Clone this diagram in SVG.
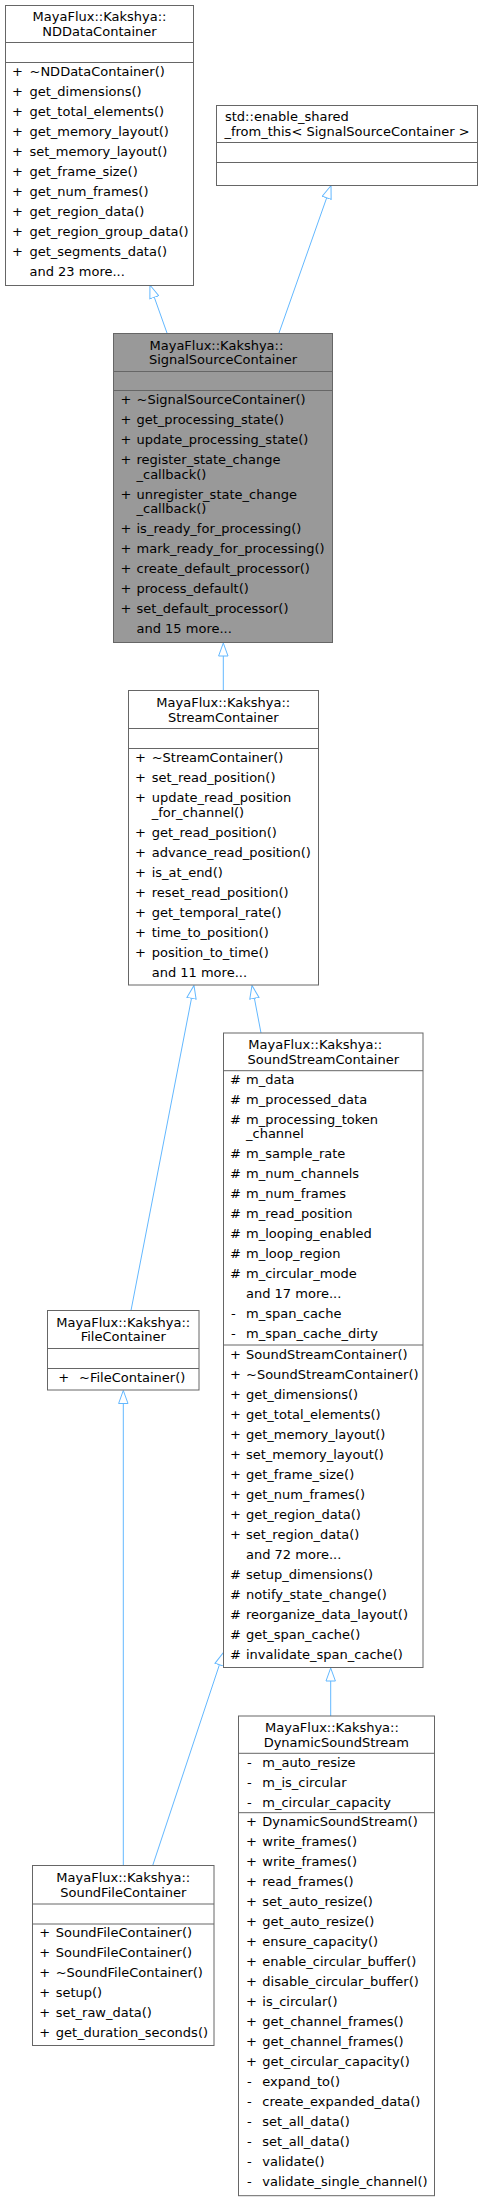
<svg xmlns="http://www.w3.org/2000/svg" width="483" height="2201" viewBox="0 0 483 2201">
<style>
text{font-family:"DejaVu Sans","Liberation Sans",sans-serif;font-size:13px;fill:#000}
.m{text-anchor:middle}
.box{fill:#fff;stroke:#666;stroke-width:1}
.cur{fill:#999;stroke:#666;stroke-width:1}
.div{stroke:#666;stroke-width:1}
.edge{fill:none;stroke:#63b8ff;stroke-width:1;marker-end:url(#ah)}
</style>
<defs>
<marker id="ah" markerUnits="userSpaceOnUse" markerWidth="14" markerHeight="11" viewBox="0 0 14 11" refX="0.5" refY="5.5" orient="auto">
<path d="M0.5,0.8 L13.5,5.5 L0.5,10.2 Z" fill="#fff" stroke="#63b8ff" stroke-width="1"/>
</marker>
</defs>

<g id="connectors">
<line class="edge" x1="167" y1="333" x2="154.3" y2="297.3"/>
<line class="edge" x1="279" y1="333" x2="326.7" y2="197.8"/>
<line class="edge" x1="223.3" y1="690" x2="223.3" y2="656"/>
<line class="edge" x1="131" y1="1310.5" x2="191.5" y2="998.3"/>
<line class="edge" x1="261" y1="1033" x2="254.4" y2="998.3"/>
<line class="edge" x1="123.3" y1="1865.5" x2="123.3" y2="1403.5"/>
<line class="edge" x1="152.7" y1="1865.5" x2="219.4" y2="1664.8"/>
<line class="edge" x1="330.7" y1="1716" x2="330.7" y2="1681"/>
</g>

<g id="NDDataContainer">
<rect class="box" x="5.5" y="5.5" width="188" height="280"/>
<line class="div" x1="5.5" y1="42.5" x2="193.5" y2="42.5"/>
<line class="div" x1="5.5" y1="62.5" x2="193.5" y2="62.5"/>
<text class="m" x="99.5" y="21">MayaFlux::Kakshya::</text>
<text class="m" x="99.5" y="36">NDDataContainer</text>
<text x="12" y="76">+</text><text x="29.5" y="76">~NDDataContainer()</text>
<text x="12" y="96">+</text><text x="29.5" y="96">get_dimensions()</text>
<text x="12" y="116">+</text><text x="29.5" y="116">get_total_elements()</text>
<text x="12" y="136">+</text><text x="29.5" y="136">get_memory_layout()</text>
<text x="12" y="156">+</text><text x="29.5" y="156">set_memory_layout()</text>
<text x="12" y="176">+</text><text x="29.5" y="176">get_frame_size()</text>
<text x="12" y="196">+</text><text x="29.5" y="196">get_num_frames()</text>
<text x="12" y="216">+</text><text x="29.5" y="216">get_region_data()</text>
<text x="12" y="236">+</text><text x="29.5" y="236">get_region_group_data()</text>
<text x="12" y="256">+</text><text x="29.5" y="256">get_segments_data()</text>
<text x="29.5" y="276">and 23 more...</text>
</g>

<g id="enable_shared">
<rect class="box" x="216.5" y="105.5" width="261" height="80"/>
<line class="div" x1="216.5" y1="142.5" x2="477.5" y2="142.5"/>
<line class="div" x1="216.5" y1="162.5" x2="477.5" y2="162.5"/>
<text x="225" y="121">std::enable_shared</text>
<text class="m" x="347" y="136">_from_this&lt; SignalSourceContainer &gt;</text>
</g>

<g id="SignalSourceContainer">
<rect class="cur" x="113.5" y="333.5" width="219" height="309"/>
<line class="div" x1="113.5" y1="371.5" x2="332.5" y2="371.5"/>
<line class="div" x1="113.5" y1="390.5" x2="332.5" y2="390.5"/>
<text x="149.5" y="349.5">MayaFlux::Kakshya::</text>
<text class="m" x="223" y="364">SignalSourceContainer</text>
<text x="120.5" y="404.3">+</text><text x="136.5" y="404.3">~SignalSourceContainer()</text>
<text x="120.5" y="424.3">+</text><text x="136.5" y="424.3">get_processing_state()</text>
<text x="120.5" y="444.3">+</text><text x="136.5" y="444.3">update_processing_state()</text>
<text x="120.5" y="464.3">+</text><text x="136.5" y="464.3">register_state_change</text>
<text x="136.5" y="479">_callback()</text>
<text x="120.5" y="498.6">+</text><text x="136.5" y="498.6">unregister_state_change</text>
<text x="136.5" y="512.6">_callback()</text>
<text x="120.5" y="533.3">+</text><text x="136.5" y="533.3">is_ready_for_processing()</text>
<text x="120.5" y="553.3">+</text><text x="136.5" y="553.3">mark_ready_for_processing()</text>
<text x="120.5" y="573.3">+</text><text x="136.5" y="573.3">create_default_processor()</text>
<text x="120.5" y="593">+</text><text x="136.5" y="593">process_default()</text>
<text x="120.5" y="613">+</text><text x="136.5" y="613">set_default_processor()</text>
<text x="136.5" y="633">and 15 more...</text>
</g>

<g id="StreamContainer">
<rect class="box" x="128.5" y="690.5" width="190" height="294.5"/>
<line class="div" x1="128.5" y1="728.5" x2="318.5" y2="728.5"/>
<line class="div" x1="128.5" y1="748.5" x2="318.5" y2="748.5"/>
<text class="m" x="223.3" y="707">MayaFlux::Kakshya::</text>
<text class="m" x="223.3" y="722">StreamContainer</text>
<text x="135" y="762">+</text><text x="151.7" y="762">~StreamContainer()</text>
<text x="135" y="782">+</text><text x="151.7" y="782">set_read_position()</text>
<text x="135" y="802">+</text><text x="151.7" y="802">update_read_position</text>
<text x="151.7" y="817">_for_channel()</text>
<text x="135" y="837">+</text><text x="151.7" y="837">get_read_position()</text>
<text x="135" y="857">+</text><text x="151.7" y="857">advance_read_position()</text>
<text x="135" y="877">+</text><text x="151.7" y="877">is_at_end()</text>
<text x="135" y="897">+</text><text x="151.7" y="897">reset_read_position()</text>
<text x="135" y="917">+</text><text x="151.7" y="917">get_temporal_rate()</text>
<text x="135" y="937">+</text><text x="151.7" y="937">time_to_position()</text>
<text x="135" y="957">+</text><text x="151.7" y="957">position_to_time()</text>
<text x="151.7" y="977">and 11 more...</text>
</g>

<g id="SoundStreamContainer">
<rect class="box" x="223.5" y="1033" width="199.5" height="634.5"/>
<line class="div" x1="223.5" y1="1070.7" x2="423" y2="1070.7"/>
<line class="div" x1="223.5" y1="1345" x2="423" y2="1345"/>
<text x="248.3" y="1048.6">MayaFlux::Kakshya::</text>
<text class="m" x="323.3" y="1063.6">SoundStreamContainer</text>
<text x="230" y="1083.6">#</text><text x="246" y="1083.6">m_data</text>
<text x="230" y="1103.6">#</text><text x="246" y="1103.6">m_processed_data</text>
<text x="230" y="1123.6">#</text><text x="246" y="1123.6">m_processing_token</text>
<text x="246" y="1138.3">_channel</text>
<text x="230" y="1158.3">#</text><text x="246" y="1158.3">m_sample_rate</text>
<text x="230" y="1178.3">#</text><text x="246" y="1178.3">m_num_channels</text>
<text x="230" y="1198.3">#</text><text x="246" y="1198.3">m_num_frames</text>
<text x="230" y="1218.3">#</text><text x="246" y="1218.3">m_read_position</text>
<text x="230" y="1238.3">#</text><text x="246" y="1238.3">m_looping_enabled</text>
<text x="230" y="1258.3">#</text><text x="246" y="1258.3">m_loop_region</text>
<text x="230" y="1278.3">#</text><text x="246" y="1278.3">m_circular_mode</text>
<text x="246" y="1298.3">and 17 more...</text>
<text x="231" y="1318.3">-</text><text x="246" y="1318.3">m_span_cache</text>
<text x="231" y="1338.3">-</text><text x="246" y="1338.3">m_span_cache_dirty</text>
<text x="230" y="1358.6">+</text><text x="246" y="1358.6">SoundStreamContainer()</text>
<text x="230" y="1378.6">+</text><text x="246" y="1378.6">~SoundStreamContainer()</text>
<text x="230" y="1398.6">+</text><text x="246" y="1398.6">get_dimensions()</text>
<text x="230" y="1418.6">+</text><text x="246" y="1418.6">get_total_elements()</text>
<text x="230" y="1438.6">+</text><text x="246" y="1438.6">get_memory_layout()</text>
<text x="230" y="1458.6">+</text><text x="246" y="1458.6">set_memory_layout()</text>
<text x="230" y="1478.6">+</text><text x="246" y="1478.6">get_frame_size()</text>
<text x="230" y="1498.6">+</text><text x="246" y="1498.6">get_num_frames()</text>
<text x="230" y="1518.6">+</text><text x="246" y="1518.6">get_region_data()</text>
<text x="230" y="1538.6">+</text><text x="246" y="1538.6">set_region_data()</text>
<text x="246" y="1558.6">and 72 more...</text>
<text x="230" y="1578.6">#</text><text x="246" y="1578.6">setup_dimensions()</text>
<text x="230" y="1598.6">#</text><text x="246" y="1598.6">notify_state_change()</text>
<text x="230" y="1618.6">#</text><text x="246" y="1618.6">reorganize_data_layout()</text>
<text x="230" y="1638.6">#</text><text x="246" y="1638.6">get_span_cache()</text>
<text x="230" y="1658.6">#</text><text x="246" y="1658.6">invalidate_span_cache()</text>
</g>

<g id="FileContainer">
<rect class="box" x="47.5" y="1310.5" width="151.5" height="79.5"/>
<line class="div" x1="47.5" y1="1348.5" x2="199" y2="1348.5"/>
<line class="div" x1="47.5" y1="1368.5" x2="199" y2="1368.5"/>
<text class="m" x="123.3" y="1327">MayaFlux::Kakshya::</text>
<text class="m" x="123.3" y="1341">FileContainer</text>
<text x="58.3" y="1381.6">+</text><text x="79" y="1381.6">~FileContainer()</text>
</g>

<g id="SoundFileContainer">
<rect class="box" x="32.5" y="1865.5" width="181.5" height="180"/>
<line class="div" x1="32.5" y1="1904" x2="214" y2="1904"/>
<line class="div" x1="32.5" y1="1924" x2="214" y2="1924"/>
<text class="m" x="123.3" y="1882">MayaFlux::Kakshya::</text>
<text class="m" x="123.3" y="1897">SoundFileContainer</text>
<text x="39.3" y="1937">+</text><text x="55.7" y="1937">SoundFileContainer()</text>
<text x="39.3" y="1957">+</text><text x="55.7" y="1957">SoundFileContainer()</text>
<text x="39.3" y="1977">+</text><text x="55.7" y="1977">~SoundFileContainer()</text>
<text x="39.3" y="1997">+</text><text x="55.7" y="1997">setup()</text>
<text x="39.3" y="2017">+</text><text x="55.7" y="2017">set_raw_data()</text>
<text x="39.3" y="2037">+</text><text x="55.7" y="2037">get_duration_seconds()</text>
</g>

<g id="DynamicSoundStream">
<rect class="box" x="238.5" y="1716" width="196" height="479.7"/>
<line class="div" x1="238.5" y1="1753.3" x2="434.5" y2="1753.3"/>
<line class="div" x1="238.5" y1="1812.7" x2="434.5" y2="1812.7"/>
<text x="265" y="1732">MayaFlux::Kakshya::</text>
<text class="m" x="336.3" y="1746.6">DynamicSoundStream</text>
<text x="247" y="1767">-</text><text x="262.3" y="1767">m_auto_resize</text>
<text x="247" y="1787">-</text><text x="262.3" y="1787">m_is_circular</text>
<text x="247" y="1807">-</text><text x="262.3" y="1807">m_circular_capacity</text>
<text x="246" y="1826">+</text><text x="262.3" y="1826">DynamicSoundStream()</text>
<text x="246" y="1846">+</text><text x="262.3" y="1846">write_frames()</text>
<text x="246" y="1866">+</text><text x="262.3" y="1866">write_frames()</text>
<text x="246" y="1886">+</text><text x="262.3" y="1886">read_frames()</text>
<text x="246" y="1906">+</text><text x="262.3" y="1906">set_auto_resize()</text>
<text x="246" y="1926">+</text><text x="262.3" y="1926">get_auto_resize()</text>
<text x="246" y="1946">+</text><text x="262.3" y="1946">ensure_capacity()</text>
<text x="246" y="1966">+</text><text x="262.3" y="1966">enable_circular_buffer()</text>
<text x="246" y="1986">+</text><text x="262.3" y="1986">disable_circular_buffer()</text>
<text x="246" y="2006">+</text><text x="262.3" y="2006">is_circular()</text>
<text x="246" y="2026">+</text><text x="262.3" y="2026">get_channel_frames()</text>
<text x="246" y="2046">+</text><text x="262.3" y="2046">get_channel_frames()</text>
<text x="246" y="2066">+</text><text x="262.3" y="2066">get_circular_capacity()</text>
<text x="247" y="2086">-</text><text x="262.3" y="2086">expand_to()</text>
<text x="247" y="2106">-</text><text x="262.3" y="2106">create_expanded_data()</text>
<text x="247" y="2126">-</text><text x="262.3" y="2126">set_all_data()</text>
<text x="247" y="2146">-</text><text x="262.3" y="2146">set_all_data()</text>
<text x="247" y="2166">-</text><text x="262.3" y="2166">validate()</text>
<text x="247" y="2186">-</text><text x="262.3" y="2186">validate_single_channel()</text>
</g>
</svg>
